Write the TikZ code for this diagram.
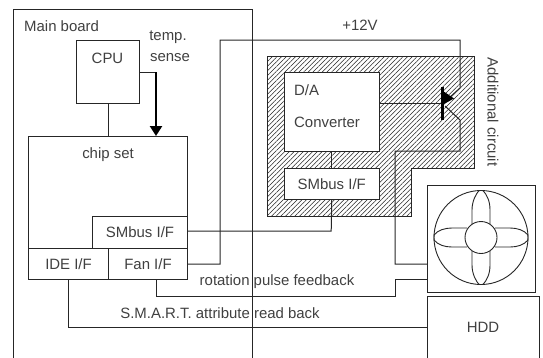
\documentclass[tikz,border=0pt]{standalone}
\usepackage{fontspec}
\setmainfont{Liberation Sans}
\usetikzlibrary{patterns.meta,arrows.meta}
\definecolor{ink}{gray}{0.15}
\definecolor{txt}{gray}{0.25}
\tikzset{
  wire/.style={draw=ink,line width=1bp},
  boxnode/.style={draw=ink,line width=1bp,fill=white,inner sep=0pt,font=\fontsize{15}{17}\selectfont,text=txt},
  label/.style={inner sep=0pt,font=\fontsize{15}{17}\selectfont,text=txt},
  blade/.style={draw=ink,line width=0.9bp},
}
\begin{document}
\begin{tikzpicture}[x=1bp,y=-1bp]
\useasboundingbox (0,0) rectangle (543,357);
\clip (0,0) rectangle (543,357);
% main board
\node[boxnode,fill=none,minimum width=239bp,minimum height=361bp,anchor=north west] (board) at (13,9) {};
\node[label,anchor=west] (boardlabel) at (24,26.5) {Main board};
% hatched area
\filldraw[draw=ink,line width=1bp,fill=white] (267,56) -- (474,56) -- (474,168) -- (411,168) -- (411,216) -- (267,216) -- cycle;
\fill[pattern={Lines[angle=45,distance=3.3bp,line width=0.55bp]},pattern color=ink] (267,56) -- (474,56) -- (474,168) -- (411,168) -- (411,216) -- (267,216) -- cycle;
% boxes
\node[boxnode,minimum width=63bp,minimum height=63bp,anchor=north west] (cpu) at (76,40) {};
\node[label] (cpulabel) at (107.5,58) {CPU};
\node[boxnode,minimum width=159bp,minimum height=143bp,anchor=north west] (chip) at (28,136) {};
\node[label] (chiplabel) at (108,155) {chip set};
\node[boxnode,minimum width=95bp,minimum height=31.5bp,anchor=north west] (smb) at (92,216) {SMbus I/F};
\node[boxnode,minimum width=80bp,minimum height=31.5bp,anchor=north west] (ide) at (28,247.5) {IDE I/F};
\node[boxnode,minimum width=79bp,minimum height=31.5bp,anchor=north west] (fanif) at (108,247.5) {Fan I/F};
\node[boxnode,minimum width=95.5bp,minimum height=79bp,anchor=north west] (da) at (283.5,72) {};
\node[label,anchor=west] (dalabel1) at (294,90) {D/A};
\node[label,anchor=west] (dalabel2) at (294,122) {Converter};
\node[boxnode,minimum width=95.5bp,minimum height=31bp,anchor=north west] (smb2) at (283.5,168) {SMbus I/F};
\node[boxnode,minimum width=108bp,minimum height=107bp,anchor=north west] (fan) at (427,184.5) {};
\node[boxnode,minimum width=112bp,minimum height=80bp,anchor=north west] (hdd) at (427,295.5) {};
\node[label] (hddlabel) at (483,327) {HDD};
% labels
\node[label] (temp) at (168,37) {temp.};
\node[label] (sense) at (170,57.5) {sense};
\node[label] (plus) at (360,25.5) {+12V};
\node[label,rotate=-90] (add) at (493,112) {Additional circuit};
\node[label] (rot) at (277,281.5) {rotation pulse feedback};
\node[label] (smart) at (220,313.5) {S.M.A.R.T. attribute read back};
% connectors
\draw[wire] (cpu.south) -- (cpu.south |- chip.north);
\coordinate (t1) at (139,72);
\coordinate (t2) at (156,72);
\coordinate (t3) at (156,136);
\draw[wire] (t1) -- (t2);
\draw[draw=black,line width=2.4bp,-{Triangle[width=12bp,length=10bp]}] (t2) -- (t3);
\draw[wire] (da.south) -- (smb2.north);
\coordinate (s1) at (331.2,231);
\coordinate (s0) at (187,231);
\draw[wire] (smb2.south) -- (s1) -- (s0);
\coordinate (b) at (443,103);
\draw[wire] (da.east |- b) -- (b);
\draw[wire] (187,264) -- (220,264) -- (220,40) -- (460,40) -- (460,88) -- (450,97);
\draw[wire] (445,106) -- (460,120) -- (460,151) -- (395,151) -- (395,264) -- (fan.west |- 0,264);
\draw[wire] (156,279) -- (156,296) -- (395,296) -- (395,279) -- (fan.west |- 0,279);
\draw[wire] (68,279) -- (68,327) -- (hdd.west |- 0,327);
% transistor
\draw[draw=black,line width=3bp] (442.5,87) -- (442.5,120);
\fill[black] (443,91) -- (454,98.5) -- (444,104) -- cycle;
% fan
\coordinate (c) at (481,237.5);
\draw[blade] (c) circle[radius=47];
\fill[white] (c) circle[radius=16];
\draw[blade] (c) circle[radius=16];
\draw[blade] (472,224) -- (472,210) .. controls (472,201) and (476,194) .. (479,190.5) -- (483,190.5) .. controls (487,195) and (490,201) .. (490,210) -- (490,224);
\draw[blade] (472,251) -- (472,265) .. controls (472,274) and (476,281) .. (479,284.5) -- (483,284.5) .. controls (487,280) and (490,274) .. (490,265) -- (490,251);
\draw[blade] (467,228) -- (452,228) .. controls (445,228) and (438,230) .. (434,235) -- (434,240) .. controls (438,245) and (445,247) .. (452,247) -- (467,247);
\draw[blade] (495,228) -- (510,228) .. controls (517,228) and (524,230) .. (528,235) -- (528,240) .. controls (524,245) and (517,247) .. (510,247) -- (495,247);
\end{tikzpicture}
\end{document}
